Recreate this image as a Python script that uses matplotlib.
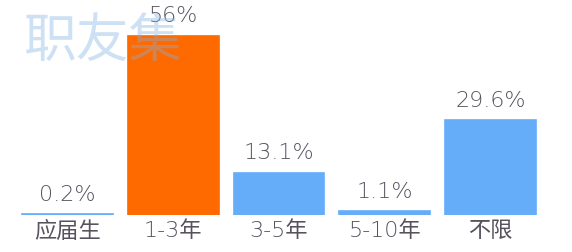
import matplotlib
matplotlib.use("Agg")
import matplotlib.pyplot as plt

plt.rcParams['font.family'] = ['DejaVu Sans', 'Noto Sans CJK SC']

categories = ["应届生", "1-3年", "3-5年", "5-10年", "不限"]
values = [0.2, 56, 13.1, 1.1, 29.6]
labels = ["0.2%", "56%", "13.1%", "1.1%", "29.6%"]
colors = ["#66adf9", "#ff6a00", "#66adf9", "#66adf9", "#66adf9"]

fig = plt.figure(figsize=(5.72, 2.52), dpi=100)
ax = fig.add_axes([0.0257, 0.147, 0.924, 0.853])

bars = ax.bar(range(len(values)), values, width=0.86, color=colors,
              edgecolor=colors, linewidth=1.2)

for b, lab in zip(bars, labels):
    ax.annotate(lab, (b.get_x() + b.get_width() / 2, b.get_height()),
                xytext=(0, 7), textcoords="offset points",
                ha="center", va="bottom", fontsize=16, color="#57525e",
                weight="light")

ax.set_xlim(-0.5, len(values) - 0.5)
ax.set_ylim(0, 67.2)
ax.set_xticks(range(len(values)))
ax.set_xticklabels(categories, fontsize=16, color="#57525e", weight="light")
ax.tick_params(axis="x", length=0, pad=4)
ax.set_yticks([])
for s in ax.spines.values():
    s.set_visible(False)
ax.axhline(0, color="#f0f0f0", linewidth=0.8, zorder=0)

# watermark
fig.text(0.04, 0.835, "职友集", fontsize=38,
         color="#7fb0e0", alpha=0.38, ha="left", va="center", zorder=10,
         family=["Noto Sans CJK SC"])

fig.savefig("out.png", dpi=100)
